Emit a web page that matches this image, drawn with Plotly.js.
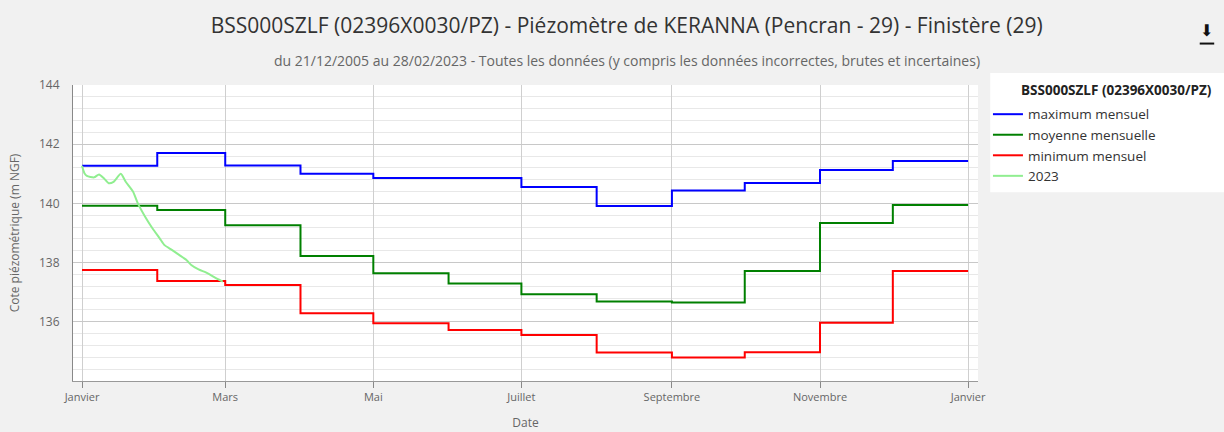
<!DOCTYPE html>
<html>
<head>
<meta charset="utf-8">
<script src="https://cdn.plot.ly/plotly-3.0.1.min.js"></script>
<style>
  html, body { margin: 0; padding: 0; background: #f1f1f1; }
  #chart { width: 1224px; height: 432px; }
</style>
</head>
<body>
<div id="chart"></div>
<script>
// ---- Data ----
const monthStarts = ['2023-01-01','2023-02-01','2023-03-01','2023-04-01','2023-05-01','2023-06-01',
                     '2023-07-01','2023-08-01','2023-09-01','2023-10-01','2023-11-01','2023-12-01','2024-01-01'];
const maxMensuel = [141.27, 141.70, 141.28, 141.00, 140.86, 140.86, 140.55, 139.91, 140.44, 140.69, 141.13, 141.43, 141.43];
const moyMensuelle = [139.92, 139.78, 139.26, 138.22, 137.64, 137.29, 136.93, 136.69, 136.65, 137.72, 139.34, 139.95, 139.95];
const minMensuel = [137.75, 137.38, 137.24, 136.29, 135.95, 135.72, 135.55, 134.96, 134.79, 134.97, 135.97, 137.72, 137.72];

const dates2023 = ['2023-01-01','2023-01-02','2023-01-03','2023-01-06','2023-01-08','2023-01-10','2023-01-12',
                   '2023-01-14','2023-01-17','2023-01-19','2023-01-22','2023-01-24','2023-01-27','2023-01-30',
                   '2023-02-02','2023-02-04','2023-02-07','2023-02-10','2023-02-13','2023-02-15','2023-02-18',
                   '2023-02-21','2023-02-23','2023-02-26','2023-02-28'];
const values2023 = [141.27, 141.02, 140.93, 140.88, 140.98, 140.85, 140.68,
                    140.73, 141.00, 140.73, 140.40, 140.00, 139.55, 139.16,
                    138.82, 138.59, 138.43, 138.26, 138.09, 137.92, 137.77,
                    137.67, 137.58, 137.44, 137.36];

const xTickVals = ['2023-01-01','2023-03-01','2023-05-01','2023-07-01','2023-09-01','2023-11-01','2024-01-01'];
const xTickText = ['Janvier','Mars','Mai','Juillet','Septembre','Novembre','Janvier'];
const seriesNames = ['maximum mensuel','moyenne mensuelle','minimum mensuel','2023'];

const titleText = 'BSS000SZLF (02396X0030/PZ) - Piézomètre de KERANNA (Pencran - 29) - Finistère (29)';
const subtitleText = 'du 21/12/2005 au 28/02/2023 - Toutes les données (y compris les données incorrectes, brutes et incertaines)';
const legendTitle = 'BSS000SZLF (02396X0030/PZ)';

const FONT = 'Open Sans, Noto Sans, DejaVu Sans, sans-serif';

const traces = [
  {x: monthStarts, y: maxMensuel, name: seriesNames[0], mode: 'lines', line: {shape: 'hv', color: '#0000ff', width: 2}},
  {x: monthStarts, y: moyMensuelle, name: seriesNames[1], mode: 'lines', line: {shape: 'hv', color: '#008000', width: 2}},
  {x: monthStarts, y: minMensuel, name: seriesNames[2], mode: 'lines', line: {shape: 'hv', color: '#ff0000', width: 2}},
  {x: dates2023, y: values2023, name: seriesNames[3], mode: 'lines', line: {shape: 'spline', smoothing: 0.6, color: '#90ee90', width: 2}}
];

const layout = {
  width: 1224, height: 432,
  paper_bgcolor: '#f1f1f1',
  plot_bgcolor: '#ffffff',
  margin: {l: 73, r: 246, t: 85, b: 51},
  font: {family: FONT, color: '#666666', size: 11},
  showlegend: true,
  title: {
    text: titleText,
    font: {family: FONT, size: 21, color: '#333333'},
    x: 0.512, xanchor: 'center', y: 0.94, yref: 'container', yanchor: 'middle'
  },
  xaxis: {
    type: 'date',
    range: ['2022-12-28 07:00', '2024-01-05 02:00'],
    tickvals: xTickVals, ticktext: xTickText,
    ticks: 'outside', ticklen: 6, tickcolor: '#888888', tickwidth: 1,
    showgrid: true, gridcolor: '#cfcfcf', gridwidth: 1,
    showline: true, linecolor: '#999999', linewidth: 1,
    zeroline: false,
    tickfont: {family: FONT, size: 11, color: '#666666'},
    title: {text: 'Date', font: {family: FONT, size: 12, color: '#666666'}, standoff: 15},
    fixedrange: true
  },
  yaxis: {
    range: [134, 144],
    tick0: 134, dtick: 2,
    tickvals: [136, 138, 140, 142, 144],
    ticks: '',
    showgrid: true, gridcolor: '#c8c8c8', gridwidth: 1,
    minor: {tick0: 134, dtick: 0.4, showgrid: true, gridcolor: '#e8e8e8', gridwidth: 1, ticks: ''},
    showline: true, linecolor: '#888888', linewidth: 1,
    zeroline: false,
    ticklabelstandoff: 10,
    tickfont: {family: FONT, size: 12, color: '#666666'},
    title: {text: 'Cote piézométrique (m NGF)', font: {family: FONT, size: 12, color: '#666666'}, standoff: 16},
    fixedrange: true
  },
  legend: {
    x: 1.011, xanchor: 'left', y: 0.953, yanchor: 'top',
    bgcolor: 'rgba(0,0,0,0)', borderwidth: 0,
    font: {family: FONT, size: 13.5, color: '#333333'},
    itemwidth: 30, tracegroupgap: 0
  },
  annotations: [
    {text: subtitleText, xref: 'paper', yref: 'paper', x: 0.612, y: 1.084, xanchor: 'center', yanchor: 'middle',
     showarrow: false, font: {family: FONT, size: 14, color: '#666666'}},
    {text: '<b>' + legendTitle + '</b>', xref: 'paper', yref: 'paper', x: 1.0455, y: 0.982, xanchor: 'left', yanchor: 'middle',
     showarrow: false, font: {family: FONT, size: 13.5, color: '#222222'}},
    {text: '⬇', xref: 'paper', yref: 'paper', x: 1.253, y: 1.185, xanchor: 'center', yanchor: 'middle',
     showarrow: false, font: {family: 'DejaVu Sans', size: 16, color: '#111111'}}
  ],
  shapes: [
    {type: 'rect', xref: 'paper', yref: 'paper', x0: 1.0135, x1: 1.28, y0: 0.638, y1: 1.0405,
     fillcolor: '#ffffff', line: {width: 0}, layer: 'below'},
    {type: 'line', xref: 'paper', yref: 'paper', x0: 1.245, x1: 1.261, y0: 1.14, y1: 1.14, line: {color: '#111111', width: 2}}
  ],
  hovermode: false
};

Plotly.newPlot('chart', traces, layout, {displayModeBar: false, staticPlot: true});
</script>
</body>
</html>
